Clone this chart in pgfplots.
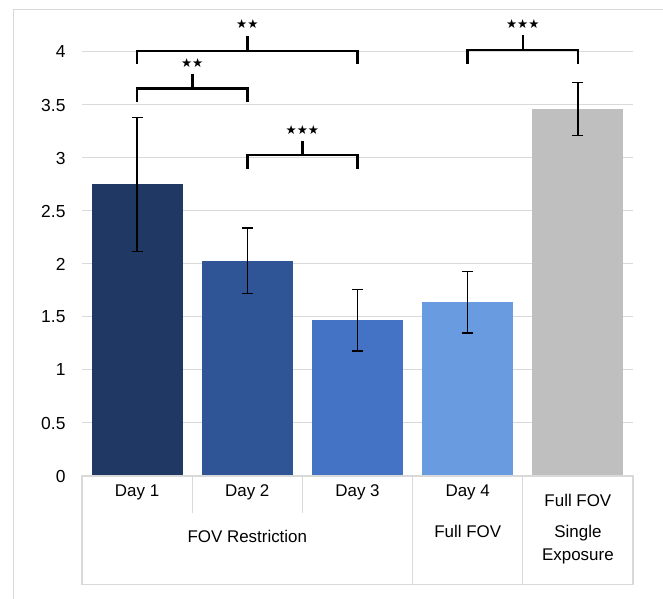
\documentclass[border=0pt]{standalone}
\usepackage{fontspec}
\setmainfont{Liberation Sans}
\newfontfamily\symfont{DejaVu Sans}
\usepackage{pgfplots}
\pgfplotsset{compat=1.18}

\definecolor{dayone}{HTML}{203864}
\definecolor{daytwo}{HTML}{2F5597}
\definecolor{daythree}{HTML}{4472C4}
\definecolor{dayfour}{HTML}{699BE0}
\definecolor{fullfov}{HTML}{BFBFBF}
\definecolor{framegray}{HTML}{D9D9D9}

\newcommand{\stars}[1]{{\symfont\fontsize{12.5}{12.5}\selectfont #1}}

\begin{document}
\begin{tikzpicture}
\useasboundingbox (0,0) rectangle (663bp,599bp);
% outer chart border
\draw[framegray, line width=1bp] (13bp,0) -- (13bp,589bp) -- (663bp,589bp);

\begin{axis}[
    at={(82bp,123bp)}, anchor=south west,
    scale only axis, width=551bp, height=424bp,
    xmin=-0.5, xmax=4.5, ymin=0, ymax=4,
    ybar, bar width=91bp, bar shift=0pt,
    ytick={0,0.5,...,4}, xtick=\empty,
    ymajorgrids, grid style={draw=framegray, line width=1bp},
    axis line style={draw=none}, tick style={draw=none},
    /pgf/number format/assume math mode=true,
    yticklabel style={font=\fontsize{17.5}{17.5}\selectfont, xshift=-13bp},
    clip=false,
    error bars/y dir=both, error bars/y explicit,
    error bars/error bar style={line width=1.3bp, black},
    error bars/error mark options={rotate=90, mark size=5.5bp, line width=1.3bp, black},
]
\addplot[fill=dayone, draw=none] coordinates {(0,2.75) +- (0,0.635)};
\addplot[fill=daytwo, draw=none] coordinates {(1,2.03) +- (0,0.31)};
\addplot[fill=daythree, draw=none] coordinates {(2,1.47) +- (0,0.29)};
\addplot[fill=dayfour, draw=none] coordinates {(3,1.64) +- (0,0.29)};
\addplot[fill=fullfov, draw=none] coordinates {(4,3.46) +- (0,0.25)};

% category table
\draw[framegray, line width=1.2bp] (axis cs:-0.5,0) rectangle (axis cs:4.5,-1.02);
\draw[framegray, line width=1.2bp] (axis cs:2.5,0) -- (axis cs:2.5,-1.02);
\draw[framegray, line width=1.2bp] (axis cs:3.5,0) -- (axis cs:3.5,-1.02);
\draw[framegray, line width=1.2bp] (axis cs:0.5,0) -- (axis cs:0.5,-0.35);
\draw[framegray, line width=1.2bp] (axis cs:1.5,0) -- (axis cs:1.5,-0.35);
\begin{scope}[every node/.style={font=\fontsize{17}{17}\selectfont, inner sep=0pt}]
\node at (axis cs:0,-0.157) {Day 1};
\node at (axis cs:1,-0.157) {Day 2};
\node at (axis cs:2,-0.157) {Day 3};
\node at (axis cs:3,-0.157) {Day 4};
\node at (axis cs:1,-0.566) {FOV Restriction};
\node at (axis cs:3,-0.519) {Full FOV};
\node at (axis cs:4,-0.226) {Full FOV};
\node at (axis cs:4,-0.535) {Single};
\node at (axis cs:4,-0.761) {Exposure};
\end{scope}

% significance brackets
\begin{scope}[line width=2.6bp]
\draw (axis cs:0,3.89) -- (axis cs:0,4.01) -- (axis cs:2,4.01) -- (axis cs:2,3.89);
\draw (axis cs:1,4.01) -- (axis cs:1,4.15);
\node at (axis cs:1,4.26) {\stars{★★}};
\draw (axis cs:0,3.53) -- (axis cs:0,3.656) -- (axis cs:1,3.656) -- (axis cs:1,3.53);
\draw (axis cs:0.5,3.656) -- (axis cs:0.5,3.79);
\node at (axis cs:0.5,3.90) {\stars{★★}};
\draw (axis cs:1,2.90) -- (axis cs:1,3.03) -- (axis cs:2,3.03) -- (axis cs:2,2.90);
\draw (axis cs:1.5,3.03) -- (axis cs:1.5,3.16);
\node at (axis cs:1.5,3.26) {\stars{★★★}};
\draw (axis cs:3,3.89) -- (axis cs:3,4.02) -- (axis cs:4,4.02) -- (axis cs:4,3.89);
\draw (axis cs:3.5,4.02) -- (axis cs:3.5,4.16);
\node at (axis cs:3.5,4.26) {\stars{★★★}};
\end{scope}
\end{axis}
\end{tikzpicture}
\end{document}
